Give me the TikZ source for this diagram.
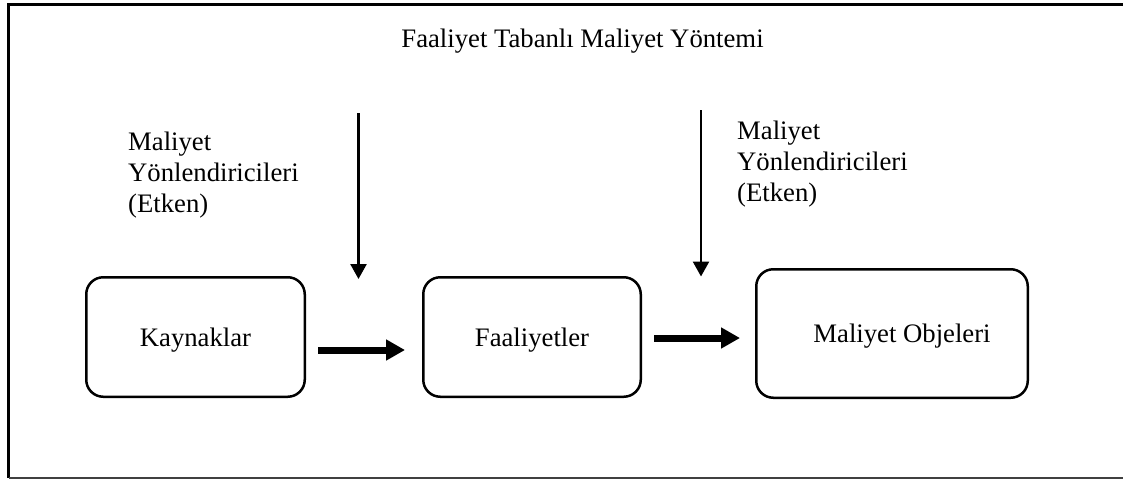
\documentclass[tikz,border=0pt]{standalone}
\usepackage{fontspec}
\setmainfont{Liberation Serif}
\usetikzlibrary{arrows.meta,calc}

\begin{document}
\begin{tikzpicture}[x=1pt,y=-1pt,
  txt/.style={font=\fontsize{26.7}{31}\selectfont, inner sep=0pt},
  stage/.style={draw, line width=2.5pt, rounded corners=17pt, txt, text depth=0pt},
  driver/.style={line width=2.5pt, -{Triangle[width=16pt,length=15pt]}},
  flow/.style={line width=7pt, -{Triangle[width=20pt,length=19pt]}}]

  % page area
  \useasboundingbox (0,0) rectangle (1123,479);

  % open frame: top, left and bottom sides
  \draw[line width=2.5pt] (1125,4.7) -- (8.7,4.7) -- (8.7,478.3);
  \draw[line width=2pt, black!75] (8.7,478.3) -- (1125,478.3);

  % title
  \node[txt, anchor=base] (title) at (582.5,47) {Faaliyet Tabanlı Maliyet Yöntemi};

  % cost driver labels
  \node[txt, align=left, anchor=north west] (drvA) at (128,132)
    {Maliyet\\Yönlendiricileri\\(Etken)};
  \node[txt, align=left, anchor=north west] (drvB) at (737,121)
    {Maliyet\\Yönlendiricileri\\(Etken)};

  % stages
  \node[stage, minimum width=218.5pt, minimum height=119.5pt] (kay) at (195.5,337) {Kaynaklar};
  \node[stage, minimum width=217.5pt, minimum height=119.5pt] (fa)  at (532,337)   {Faaliyetler};
  \node[stage, minimum width=271.5pt, minimum height=128.5pt] (obj) at (892,333.5) {\hspace*{20pt}Maliyet Objeleri};

  % driver arrows
  \coordinate (dA1) at (358.5,113);
  \coordinate (dA2) at (358.5,279);
  \coordinate (dB1) at (701,110);
  \coordinate (dB2) at (701,276.5);
  \draw[driver] (dA1) -- (dA2);
  \draw[driver] (dB1) -- (dB2);

  % flow arrows between stages
  \draw[flow] ($(kay.east)+(12,13)$) -- ($(fa.west)+(-17,13)$);
  \draw[flow] ($(fa.east)+(12,1)$) -- ($(obj.west)+(-15,4.5)$);
\end{tikzpicture}
\end{document}
